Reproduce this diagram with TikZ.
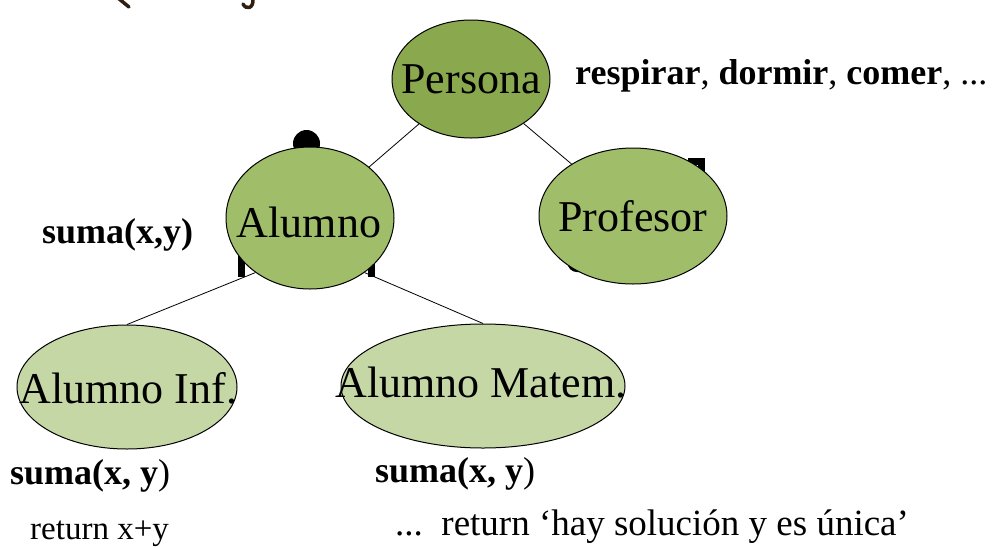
\documentclass[tikz,border=0pt]{standalone}
\usepackage{fontspec}
\setmainfont{Liberation Serif}
\usetikzlibrary{shapes.geometric}
\definecolor{rootgreen}{RGB}{138,168,78}
\definecolor{midgreen}{RGB}{160,189,106}
\definecolor{leafgreen}{RGB}{198,215,166}
\definecolor{inkbrown}{RGB}{50,30,15}
\begin{document}
\begin{tikzpicture}[x=1pt,y=-1pt,
  classnode/.style={ellipse, draw=black, line width=1pt, inner sep=0pt},
  classname/.style={anchor=base, inner sep=0pt, font=\fontsize{44}{48}\selectfont},
  methodlabel/.style={anchor=base west, inner sep=0pt, font=\fontsize{36}{40}\selectfont\bfseries},
  codelabel/.style={anchor=base west, inner sep=0pt, font=\fontsize{33}{38}\selectfont},
  link/.style={draw=black, line width=0.8pt},
  shadowmark/.style={draw=black, line width=7pt}
]
\useasboundingbox (0,0) rectangle (999,547);

% handwritten strokes along the top edge
\draw[inkbrown, line width=3.5pt, line cap=round] (118,-2) -- (129,7);
\draw[inkbrown, line width=3.5pt, line cap=round]
  (253,-2) .. controls (254,9) and (246,10) .. (243,4);

% dark marks partly hidden behind the class ellipses
\fill[black] (306.5,143.5) circle (13.5);
\draw[shadowmark] (241,248) -- (241,277);
\draw[shadowmark] (371,258) -- (371,277);
\draw[shadowmark] (688,161.5) -- (701.5,161.5) -- (701.5,178);
\draw[shadowmark, rounded corners=6pt] (571,250) |- (590,268.5);

% class ellipses
\node[classnode, fill=rootgreen, minimum width=158pt, minimum height=118pt] (persona) at (471,79) {};
\node[classnode, fill=midgreen, minimum width=168pt, minimum height=142pt] (alumno) at (310,218) {};
\node[classnode, fill=midgreen, minimum width=188pt, minimum height=136pt] (profesor) at (633,216) {};
\node[classnode, fill=leafgreen, minimum width=220pt, minimum height=124pt] (alumnoinf) at (127,387) {};
\node[classnode, fill=leafgreen, minimum width=284pt, minimum height=124pt] (alumnomat) at (483,386) {};

% inheritance links
\draw[link] (persona) -- (alumno);
\draw[link] (persona) -- (profesor);
\draw[link] (alumno.225) -- (alumnoinf.north);
\draw[link] (alumno.-45) -- (alumnomat.north);

% class names
\node[classname] (tpersona) at (471,93) {Persona};
\node[classname] (talumno) at (309,237) {Alumno};
\node[classname] (tprofesor) at (633,231) {Profesor};
\node[classname] (talumnoinf) at (128.5,403) {Alumno Inf.};
\node[classname] (talumnomat) at (481,397) {Alumno Matem.};

% methods and code
\node[methodlabel] (mpersona) at (575,84) {respirar\mdseries, \bfseries dormir\mdseries, \bfseries comer\mdseries, ...};
\node[methodlabel] (malumno) at (42,243) {suma(x,y)};
\node[methodlabel] (minf) at (10,484) {suma(x, y\mdseries)};
\node[methodlabel] (mmat) at (375,482) {suma(x, y\mdseries)};
\node[codelabel] (cinf) at (30,539) {return x+y};
\node[codelabel, font=\fontsize{37}{42}\selectfont] (cmat) at (395,535) {...\ \ return ‘hay solución y es única’};
\end{tikzpicture}
\end{document}
